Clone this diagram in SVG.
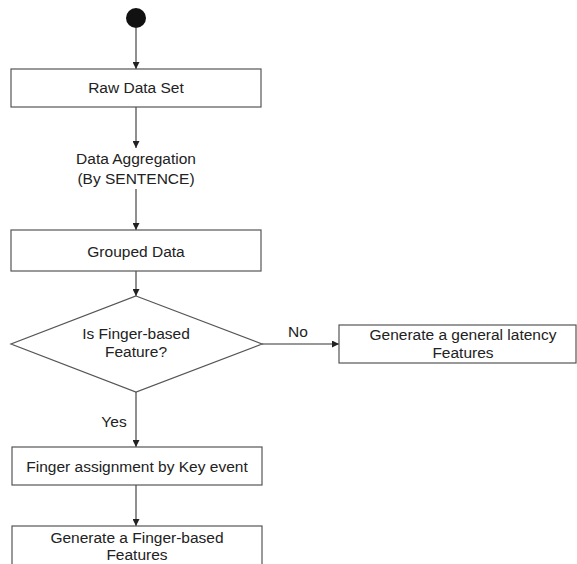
<svg xmlns="http://www.w3.org/2000/svg" width="577" height="564" viewBox="0 0 577 564">
  <style>
    .box { fill: #ffffff; stroke: #555555; stroke-width: 1.2; }
    .edge { fill: none; stroke: #333333; stroke-width: 1.1; }
    text { font-family: "Liberation Sans", Arial, sans-serif; font-size: 15.5px; fill: #222222; text-anchor: middle; }
  </style>
  <defs>
    <marker id="arrow" viewBox="0 0 10 10" refX="10" refY="5" markerWidth="7" markerHeight="7" orient="auto" markerUnits="userSpaceOnUse">
      <path d="M0,0 L10,5 L0,10 z" fill="#222222"/>
    </marker>
  </defs>
  <rect width="577" height="564" fill="#ffffff"/>

  <g id="connectors">
    <line class="edge" x1="136" y1="28" x2="136" y2="69" marker-end="url(#arrow)"/>
    <line class="edge" x1="136" y1="107" x2="136" y2="148" marker-end="url(#arrow)"/>
    <line class="edge" x1="136" y1="189" x2="136" y2="230" marker-end="url(#arrow)"/>
    <line class="edge" x1="136" y1="271" x2="136" y2="296" marker-end="url(#arrow)"/>
    <line class="edge" x1="262" y1="344" x2="339" y2="344" marker-end="url(#arrow)"/>
    <line class="edge" x1="136" y1="392" x2="136" y2="447" marker-end="url(#arrow)"/>
    <line class="edge" x1="136" y1="485" x2="136" y2="526" marker-end="url(#arrow)"/>
    <text x="298" y="337">No</text>
    <text x="114" y="427">Yes</text>
  </g>

  <g id="start">
    <circle cx="136" cy="18" r="10" fill="#111111"/>
  </g>

  <g id="raw-data-set">
    <rect class="box" x="11" y="69" width="250" height="38"/>
    <text x="136" y="93">Raw Data Set</text>
  </g>

  <g id="data-aggregation">
    <text x="136" y="164">Data Aggregation</text>
    <text x="136" y="184">(By SENTENCE)</text>
  </g>

  <g id="grouped-data">
    <rect class="box" x="11" y="230" width="250" height="41"/>
    <text x="136" y="257">Grouped Data</text>
  </g>

  <g id="finger-decision">
    <polygon class="box" points="136,296 262,344 136,392 11,344"/>
    <text x="136" y="339">Is Finger-based</text>
    <text x="136" y="357">Feature?</text>
  </g>

  <g id="general-latency">
    <rect class="box" x="339" y="325" width="237" height="38"/>
    <text x="463" y="340">Generate a general latency</text>
    <text x="463" y="358">Features</text>
  </g>

  <g id="finger-assignment">
    <rect class="box" x="12" y="447" width="250" height="38"/>
    <text x="137" y="472">Finger assignment by Key event</text>
  </g>

  <g id="finger-features">
    <rect class="box" x="12" y="526" width="250" height="48"/>
    <text x="137" y="543">Generate a Finger-based</text>
    <text x="137" y="560">Features</text>
  </g>
</svg>
